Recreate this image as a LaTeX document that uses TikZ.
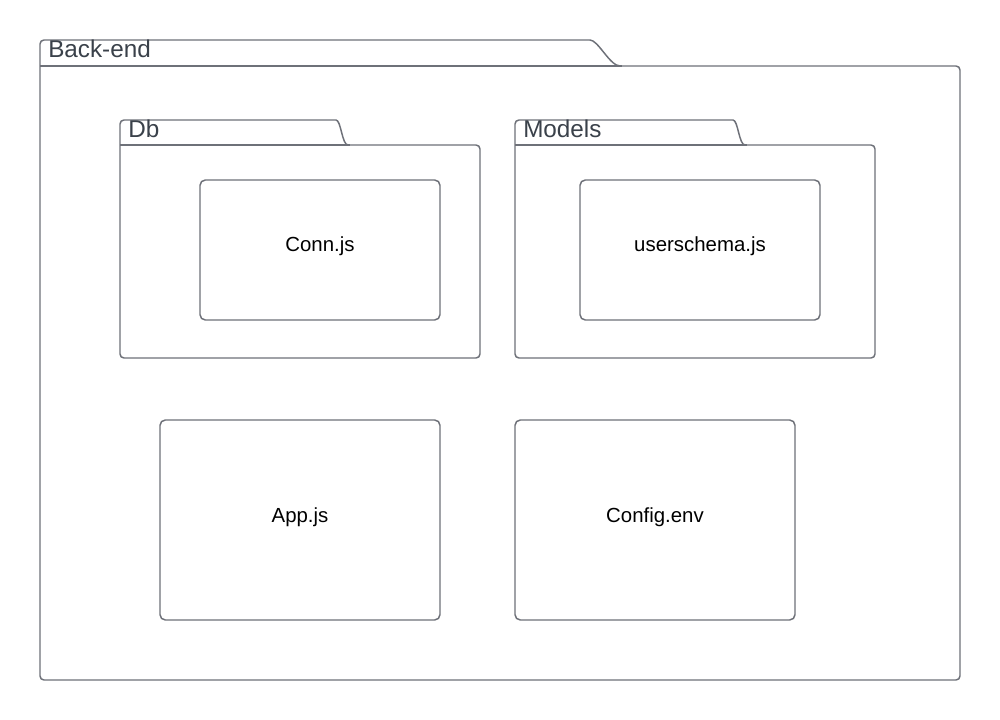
\documentclass[tikz,border=0pt]{standalone}
\usepackage{fontspec}
\setmainfont{Liberation Sans}
\begin{document}
\begin{tikzpicture}[x=0.75pt,y=-0.75pt,
  line/.style={draw=linec, line width=1.1pt, rounded corners=3pt},
  filebox/.style={draw=linec, line width=1.1pt, rounded corners=4pt, fill=white, inner sep=0pt},
  filetext/.style={inner sep=0pt, font=\fontsize{15.3}{18}\selectfont, text=black},
  foldlabel/.style={anchor=base west, inner sep=0pt, font=\fontsize{18.2}{21}\selectfont, text=textc}]
\definecolor{linec}{HTML}{6E7179}
\definecolor{textc}{HTML}{3A414A}
\useasboundingbox[fill=white] (0,0) rectangle (1000,720);
% Back-end folder
\draw[line] (40,66) -- (40,40) -- (586,40) .. controls (598,40) and (610,66) .. (624,66) -- (960,66) -- (960,680) -- (40,680) -- cycle;
\draw[draw=linec, line width=1.1pt] (40,66) -- (622,66);
\node[foldlabel] (backend) at (48,58) {Back-end};
% Db folder
\draw[line] (120,145) -- (120,120) -- (332,120) .. controls (341,120) and (342,145) .. (352,145) -- (480,145) -- (480,358) -- (120,358) -- cycle;
\draw[draw=linec, line width=1.1pt] (120,145) -- (350,145);
\node[foldlabel] (db) at (128,138) {Db};
% Models folder
\draw[line] (515,145) -- (515,120) -- (729,120) .. controls (738,120) and (739,145) .. (749,145) -- (875,145) -- (875,358) -- (515,358) -- cycle;
\draw[draw=linec, line width=1.1pt] (515,145) -- (747,145);
\node[foldlabel] (models) at (523,138) {Models};
% files
\node[filebox, minimum width=180pt, minimum height=105pt] (conn) at (320,250) {};
\node[filetext] (conntext) at (320,246) {Conn.js};
\node[filebox, minimum width=180pt, minimum height=105pt] (user) at (700,250) {};
\node[filetext] (usertext) at (700,246) {userschema.js};
\node[filebox, minimum width=210pt, minimum height=150pt] (app) at (300,520) {};
\node[filetext] (apptext) at (300,517) {App.js};
\node[filebox, minimum width=210pt, minimum height=150pt] (config) at (655,520) {};
\node[filetext] (configtext) at (655,517) {Config.env};
\end{tikzpicture}
\end{document}
